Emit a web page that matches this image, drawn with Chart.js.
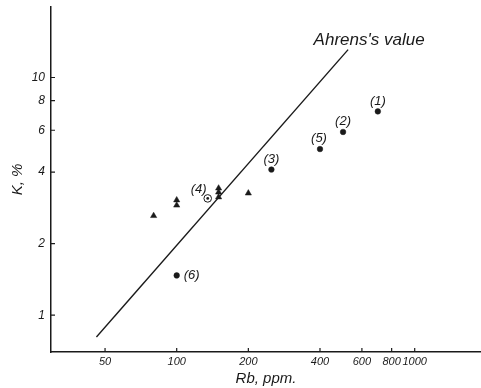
<!DOCTYPE html>
<html>
<head>
<meta charset="utf-8">
<script src="https://cdn.jsdelivr.net/npm/chart.js@4/dist/chart.umd.min.js"></script>
<style>
  body { margin: 0; background: #fff; }
  #wrap { width: 481px; height: 388px; }
</style>
</head>
<body>
<div id="wrap"><canvas id="chart" width="481" height="388"></canvas></div>
<script>
// Rb (ppm) vs K (%), log-log
const triRb = [80, 100, 100, 150, 150, 150, 200];
const triK = [2.62, 3.05, 2.9, 3.42, 3.29, 3.14, 3.26];

const numLabels = ['(1)', '(2)', '(3)', '(5)', '(6)'];
const numRb = [700, 500, 250, 400, 100];
const numK = [7.2, 5.9, 4.1, 5.0, 1.47];

const ringLabels = ['(4)'];
const ringRb = [135];
const ringK = [3.1];

const ahrensRb = [46, 525];
const ahrensK = [0.81, 13.1];

const xTicks = [50, 100, 200, 400, 600, 800, 1000];
const yTicks = [1, 2, 4, 6, 8, 10];

const INK = '#1a1a1a';
const FONT = "'Liberation Sans', Arial, sans-serif";

const pts = (xs, ys) => xs.map((x, i) => ({ x, y: ys[i] }));

// chart area has to sit exactly on the axes of the scan
const noPad = scale => {
    scale.paddingTop = 0;
    scale.paddingBottom = 0;
    scale.paddingLeft = 0;
    scale.paddingRight = 0;
};

// short tick marks pointing into the plot
const innerTicks = {
    id: 'innerTicks',
    afterDatasetsDraw(chart) {
        const { ctx, chartArea, scales } = chart;
        ctx.save();
        ctx.strokeStyle = INK;
        ctx.lineWidth = 1.2;
        ctx.beginPath();
        xTicks.forEach(v => {
            const px = scales.x.getPixelForValue(v);
            ctx.moveTo(px, chartArea.bottom);
            ctx.lineTo(px, chartArea.bottom - 4);
        });
        yTicks.forEach(v => {
            const py = scales.y.getPixelForValue(v);
            ctx.moveTo(chartArea.left, py);
            ctx.lineTo(chartArea.left + 4, py);
        });
        ctx.stroke();
        ctx.restore();
    }
};

// italic labels next to the points
const pointLabels = {
    id: 'pointLabels',
    afterDatasetsDraw(chart) {
        const { ctx } = chart;
        ctx.save();
        ctx.fillStyle = INK;
        ctx.textAlign = 'center';
        ctx.textBaseline = 'middle';
        ctx.font = `italic 13px ${FONT}`;

        const numMeta = chart.getDatasetMeta(2);
        numLabels.forEach((lab, i) => {
            const el = numMeta.data[i];
            if (lab === '(6)') ctx.fillText(lab, el.x + 15, el.y);
            else ctx.fillText(lab, el.x - (lab === '(5)' ? 1 : 0), el.y - 10.5);
        });

        const ringMeta = chart.getDatasetMeta(3);
        ringLabels.forEach((lab, i) => {
            const el = ringMeta.data[i];
            ctx.fillText(lab, el.x - 9, el.y - 9);
        });

        const lineMeta = chart.getDatasetMeta(0);
        const top = lineMeta.data[lineMeta.data.length - 1];
        ctx.font = `italic 17px ${FONT}`;
        ctx.fillText("Ahrens's value", top.x + 21, top.y - 9);
        ctx.restore();
    }
};

new Chart(document.getElementById('chart'), {
    type: 'scatter',
    data: {
        datasets: [
            {
                label: "Ahrens's value",
                data: pts(ahrensRb, ahrensK),
                showLine: true,
                borderColor: INK,
                borderWidth: 1.4,
                pointRadius: 0,
                fill: false
            },
            {
                label: 'triangles',
                data: pts(triRb, triK),
                pointStyle: 'triangle',
                pointRadius: 3.6,
                backgroundColor: INK,
                borderColor: INK,
                borderWidth: 0.5
            },
            {
                label: 'numbered',
                data: pts(numRb, numK),
                pointStyle: 'circle',
                pointRadius: 2.8,
                backgroundColor: INK,
                borderColor: INK,
                borderWidth: 0.5
            },
            {
                label: 'ring',
                data: pts(ringRb, ringK),
                pointStyle: 'circle',
                pointRadius: 3.8,
                backgroundColor: 'rgba(0,0,0,0)',
                borderColor: INK,
                borderWidth: 1
            },
            {
                label: 'ring dot',
                data: pts(ringRb, ringK),
                pointStyle: 'circle',
                pointRadius: 1.4,
                backgroundColor: INK,
                borderColor: INK,
                borderWidth: 0
            }
        ]
    },
    options: {
        responsive: false,
        devicePixelRatio: 1,
        animation: false,
        layout: { autoPadding: false, padding: { top: 7, left: 0, right: 0, bottom: 0 } },
        plugins: {
            legend: { display: false },
            tooltip: { enabled: false }
        },
        scales: {
            x: {
                type: 'logarithmic',
                min: 29.64,
                max: 1899,
                afterBuildTicks: scale => { scale.ticks = xTicks.map(v => ({ value: v })); },
                afterFit: scale => { scale.height = 36; noPad(scale); },
                grid: { display: false, drawTicks: false },
                border: { display: true, color: INK, width: 1.5 },
                ticks: {
                    autoSkip: false,
                    maxRotation: 0,
                    padding: 3,
                    color: INK,
                    font: { family: FONT, size: 11, style: 'italic' },
                    callback: v => String(v)
                },
                title: {
                    display: true,
                    text: 'Rb, ppm.',
                    color: INK,
                    padding: { top: 0, bottom: 0 },
                    font: { family: FONT, size: 15, style: 'italic' }
                }
            },
            y: {
                type: 'logarithmic',
                min: 0.714,
                max: 19.8,
                afterBuildTicks: scale => { scale.ticks = yTicks.map(v => ({ value: v })); },
                afterFit: scale => { scale.width = 51; noPad(scale); },
                grid: { display: false, drawTicks: false },
                border: { display: true, color: INK, width: 1.5 },
                ticks: {
                    autoSkip: false,
                    padding: 6,
                    color: INK,
                    font: { family: FONT, size: 12, style: 'italic' },
                    callback: v => String(v)
                },
                title: {
                    display: true,
                    text: 'K, %',
                    color: INK,
                    padding: { top: 9, bottom: 0 },
                    font: { family: FONT, size: 15, style: 'italic' }
                }
            }
        }
    },
    plugins: [innerTicks, pointLabels]
});
</script>
</body>
</html>
